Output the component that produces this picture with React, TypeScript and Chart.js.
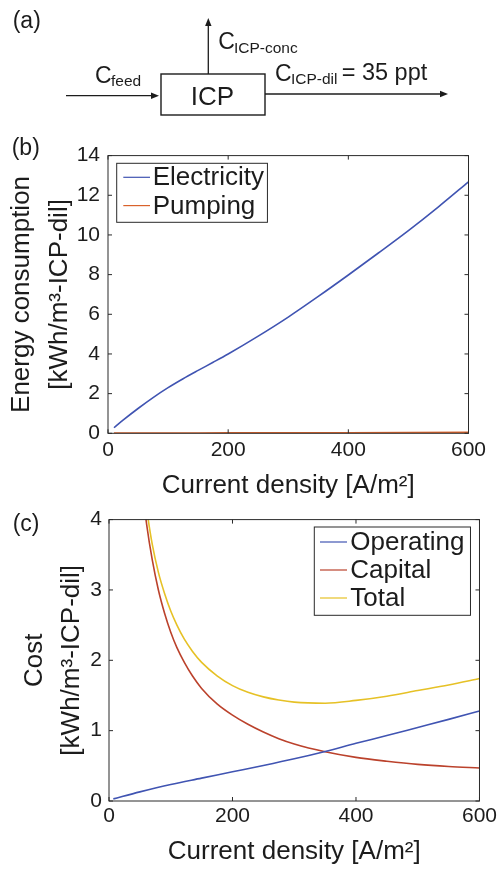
import React, { useEffect, useRef } from "react";
import { Chart, registerables } from "chart.js";

Chart.register(...registerables);

const FONT = "'Liberation Sans', Arial, Helvetica, sans-serif";
const INK = "#1c1c1c";
const FRAME = "#2a2a2a";

const BLUE = "#4054b2";
const ORANGE = "#d9622b";
const RED = "#bb422c";
const YELLOW = "#e6c126";

// Shared x axis: current density [A/m²]
const densityTicks = [0, 200, 400, 600];

// Panel (b): energy consumption [kWh/m³-ICP-dil]
const energyTicks = [0, 2, 4, 6, 8, 10, 12, 14];
const electricityX = [10, 25, 50, 75, 100, 125, 150, 175, 200, 250, 300, 350, 400, 450, 500, 550, 600];
const electricityY = [0.28, 0.66, 1.25, 1.8, 2.3, 2.75, 3.17, 3.58, 4.0, 4.9, 5.86, 6.9, 7.98, 9.09, 10.22, 11.42, 12.68];
const pumpingX = [10, 100, 200, 300, 400, 500, 600];
const pumpingY = [0.01, 0.01, 0.02, 0.02, 0.03, 0.04, 0.05];

// Panel (c): cost [kWh/m³-ICP-dil]
const costTicks = [0, 1, 2, 3, 4];
const operatingX = [7, 50, 100, 150, 200, 250, 300, 350, 400, 450, 500, 550, 600];
const operatingY = [0.03, 0.13, 0.235, 0.325, 0.415, 0.505, 0.6, 0.705, 0.82, 0.93, 1.045, 1.16, 1.28];
const capitalX = [55, 61, 70, 80, 90, 100, 110, 122, 135, 150, 175, 200, 225, 250, 275, 300, 350, 400, 450, 500, 550, 600];
const capitalY = [4.36, 3.93, 3.43, 3.0, 2.67, 2.4, 2.18, 1.97, 1.78, 1.6, 1.38, 1.22, 1.09, 0.98, 0.885, 0.81, 0.7, 0.62, 0.565, 0.52, 0.49, 0.47];
const totalX = [55, 61, 70, 80, 90, 100, 110, 122, 135, 150, 175, 200, 225, 250, 275, 300, 350, 400, 450, 500, 550, 600];
const totalY = [4.55, 4.15, 3.65, 3.25, 2.95, 2.7, 2.5, 2.3, 2.13, 1.97, 1.78, 1.64, 1.545, 1.48, 1.435, 1.405, 1.39, 1.43, 1.49, 1.57, 1.65, 1.74];

const pts = (xs: number[], ys: number[]) => xs.map((x, i) => ({ x, y: ys[i] }));

const series = (label: string, xs: number[], ys: number[], color: string) => ({
  label,
  data: pts(xs, ys),
  borderColor: color,
  backgroundColor: color,
  borderWidth: 1.6,
  pointRadius: 0,
  fill: false,
  cubicInterpolationMode: "monotone" as const,
});

// Box frame with inward tick marks on all four sides
const frame = {
  id: "frame",
  afterDatasetsDraw(chart: any) {
    const { ctx, chartArea: a, scales } = chart;
    const x = scales.x;
    const y = scales.y;
    const L = 4;
    ctx.save();
    ctx.strokeStyle = FRAME;
    ctx.lineWidth = 1;
    ctx.beginPath();
    x.ticks.forEach((t: any) => {
      const px = x.getPixelForValue(t.value);
      ctx.moveTo(px, a.bottom);
      ctx.lineTo(px, a.bottom - L);
      ctx.moveTo(px, a.top);
      ctx.lineTo(px, a.top + L);
    });
    y.ticks.forEach((t: any) => {
      const py = y.getPixelForValue(t.value);
      ctx.moveTo(a.left, py);
      ctx.lineTo(a.left + L, py);
      ctx.moveTo(a.right, py);
      ctx.lineTo(a.right - L, py);
    });
    ctx.stroke();
    ctx.strokeRect(a.left, a.top, a.right - a.left, a.bottom - a.top);
    ctx.restore();
  },
};

// Legend drawn inside the plot area as an outlined box
const boxLegend = {
  id: "boxLegend",
  afterDraw(chart: any, _args: any, o: any) {
    const { ctx, chartArea: a } = chart;
    const ds = chart.data.datasets;
    ctx.save();
    ctx.font = `${o.fontSize}px ${FONT}`;
    const textW = Math.max(...ds.map((d: any) => ctx.measureText(d.label).width));
    const w = o.padL + o.lineLen + o.gap + textW + o.padR;
    const h = o.padT + o.rowH * (ds.length - 1) + o.padB;
    const left = o.corner === "left" ? a.left + o.dx : a.right - o.dx - w;
    const top = a.top + o.dy;
    ctx.fillStyle = "#ffffff";
    ctx.fillRect(left, top, w, h);
    ctx.strokeStyle = FRAME;
    ctx.lineWidth = 1;
    ctx.strokeRect(left, top, w, h);
    ds.forEach((d: any, i: number) => {
      const cy = top + o.padT + o.rowH * i;
      ctx.strokeStyle = d.borderColor;
      ctx.lineWidth = 1.2;
      ctx.beginPath();
      ctx.moveTo(left + o.padL, cy);
      ctx.lineTo(left + o.padL + o.lineLen, cy);
      ctx.stroke();
      ctx.fillStyle = INK;
      ctx.textAlign = "left";
      ctx.textBaseline = "middle";
      ctx.fillText(d.label, left + o.padL + o.lineLen + o.gap, cy + 1);
    });
    ctx.restore();
  },
};

type PanelSpec = {
  datasets: any[];
  yTicks: number[];
  yTitle: string[];
  yTitlePad: number;
  yWidth: number;
  yTickPad: number;
  xHeight: number;
  xTickPad: number;
  padding: { top: number; right: number; bottom: number; left: number };
  legend: any;
};

function makeConfig(p: PanelSpec): any {
  return {
    type: "line",
    data: { datasets: p.datasets },
    plugins: [frame, boxLegend],
    options: {
      animation: false,
      responsive: false,
      events: [],
      layout: { padding: p.padding },
      plugins: {
        legend: { display: false },
        tooltip: { enabled: false },
        boxLegend: p.legend,
      },
      scales: {
        x: {
          type: "linear",
          min: densityTicks[0],
          max: densityTicks[densityTicks.length - 1],
          afterBuildTicks: (s: any) => {
            s.ticks = densityTicks.map((v) => ({ value: v }));
          },
          afterFit: (s: any) => {
            s.height = p.xHeight;
          },
          grid: { display: false, drawTicks: false },
          border: { display: false },
          ticks: {
            padding: p.xTickPad,
            color: INK,
            maxRotation: 0,
            autoSkip: false,
            font: { family: FONT, size: 21 },
          },
          title: {
            display: true,
            text: "Current density [A/m²]",
            color: INK,
            padding: 0,
            font: { family: FONT, size: 26, lineHeight: 1.2 },
          },
        },
        y: {
          type: "linear",
          min: p.yTicks[0],
          max: p.yTicks[p.yTicks.length - 1],
          afterBuildTicks: (s: any) => {
            s.ticks = p.yTicks.map((v) => ({ value: v }));
          },
          afterFit: (s: any) => {
            s.width = p.yWidth;
          },
          grid: { display: false, drawTicks: false },
          border: { display: false },
          ticks: {
            padding: p.yTickPad,
            color: INK,
            autoSkip: false,
            font: { family: FONT, size: 21 },
          },
          title: {
            display: true,
            text: p.yTitle,
            color: INK,
            padding: { top: p.yTitlePad, bottom: 0 },
            font: { family: FONT, size: 26, lineHeight: "37.5px" },
          },
        },
      },
    },
  };
}

function Panel({ top, height, spec }: { top: number; height: number; spec: PanelSpec }) {
  const ref = useRef<HTMLCanvasElement>(null);
  useEffect(() => {
    const chart = new Chart(ref.current as HTMLCanvasElement, makeConfig(spec));
    return () => chart.destroy();
  }, []);
  return (
    <canvas
      ref={ref}
      width={500}
      height={height}
      style={{ position: "absolute", left: 0, top, width: 500, height, display: "block" }}
    />
  );
}

const energySpec: PanelSpec = {
  datasets: [
    series("Electricity", electricityX, electricityY, BLUE),
    series("Pumping", pumpingX, pumpingY, ORANGE),
  ],
  yTicks: energyTicks,
  yTitle: ["Energy consumption", "[kWh/m³-ICP-dil]"],
  yTitlePad: 3.5,
  yWidth: 108,
  yTickPad: 8,
  xHeight: 67.7,
  xTickPad: 4,
  padding: { top: 18.3, right: 31.5, bottom: 0, left: 0 },
  legend: { corner: "left", dx: 8.7, dy: 7.7, fontSize: 26, padL: 6.6, lineLen: 26.7, gap: 2.7, padR: 3.5, padT: 14, rowH: 28.3, padB: 16.7 },
};

const costSpec: PanelSpec = {
  datasets: [
    series("Operating", operatingX, operatingY, BLUE),
    series("Capital", capitalX, capitalY, RED),
    series("Total", totalX, totalY, YELLOW),
  ],
  yTicks: costTicks,
  yTitle: ["Cost", "[kWh/m³-ICP-dil]"],
  yTitlePad: 16,
  yWidth: 109,
  yTickPad: 7,
  xHeight: 66.6,
  xTickPad: 3,
  padding: { top: 19.3, right: 20, bottom: 1.4, left: 0 },
  legend: { corner: "right", dx: 9, dy: 7.4, fontSize: 26, padL: 5.7, lineLen: 27, gap: 3.3, padR: 6, padT: 15, rowH: 28, padB: 17.3 },
};

const txt = { fontFamily: FONT, fill: INK } as const;

function FlowDiagram() {
  return (
    <svg
      width={500}
      height={869}
      style={{ position: "absolute", left: 0, top: 0, pointerEvents: "none" }}
    >
      <text x={12.7} y={27.5} fontSize={23} {...txt}>(a)</text>
      <text x={11.7} y={154.5} fontSize={23} {...txt}>(b)</text>
      <text x={12.7} y={531} fontSize={23} {...txt}>(c)</text>

      {/* ICP unit */}
      <rect x={161} y={74} width={104} height={41} fill="none" stroke={INK} strokeWidth={1.4} />
      <text x={212.5} y={105} fontSize={26} textAnchor="middle" {...txt}>ICP</text>

      {/* feed stream */}
      <line x1={66} y1={95.7} x2={152} y2={95.7} stroke={INK} strokeWidth={1.3} />
      <polygon points="159,95.7 151,92.5 151,98.9" fill={INK} />
      <text x={95} y={83.3} fontSize={23} {...txt}>C</text>
      <text x={111} y={85.5} fontSize={15.5} {...txt}>feed</text>

      {/* concentrate stream */}
      <line x1={208.3} y1={74} x2={208.3} y2={25} stroke={INK} strokeWidth={1.3} />
      <polygon points="208.3,18 205.1,26 211.5,26" fill={INK} />
      <text x={218.3} y={49} fontSize={23} {...txt}>C</text>
      <text x={234} y={52.7} fontSize={15.5} {...txt}>ICP-conc</text>

      {/* diluate stream */}
      <line x1={265} y1={94} x2={441} y2={94} stroke={INK} strokeWidth={1.3} />
      <polygon points="448,94 440,90.8 440,97.2" fill={INK} />
      <text x={275} y={80.7} fontSize={23} {...txt}>C</text>
      <text x={291} y={83.7} fontSize={15.5} {...txt}>ICP-dil</text>
      <text x={341.7} y={80} fontSize={23.5} {...txt}>= 35 ppt</text>
    </svg>
  );
}

export default function App() {
  return (
    <div
      style={{
        position: "absolute",
        left: 0,
        top: 0,
        width: 500,
        height: 869,
        background: "#ffffff",
        overflow: "hidden",
      }}
    >
      <Panel top={135} height={366} spec={energySpec} />
      <Panel top={500} height={369} spec={costSpec} />
      <FlowDiagram />
    </div>
  );
}
